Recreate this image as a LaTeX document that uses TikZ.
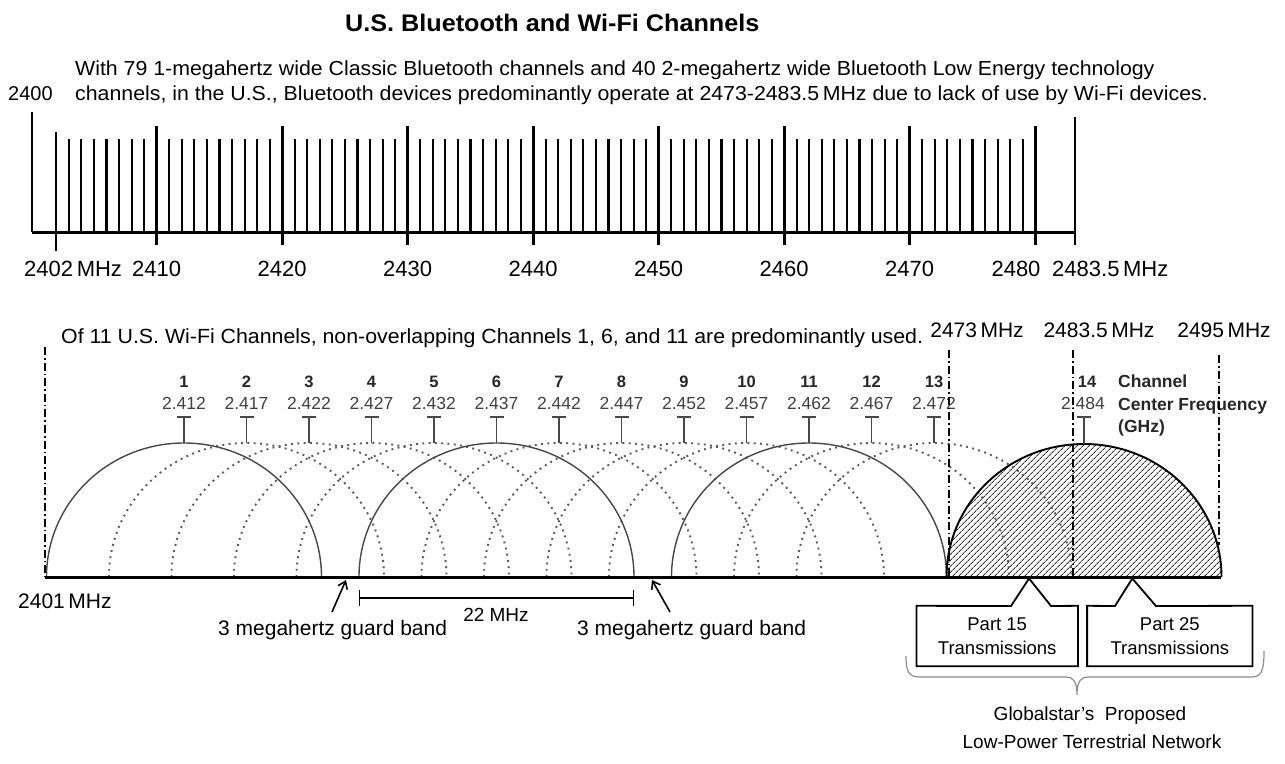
\documentclass[tikz,border=0pt]{standalone}
\usepackage{fontspec}
\usepackage{graphicx}
\setmainfont{Liberation Sans}
\usetikzlibrary{arrows.meta,patterns.meta}
\newcommand{\hstretch}[2]{\scalebox{#1}[1]{#2}}
\begin{document}
\begin{tikzpicture}[x=1pt,y=1pt,
  fs/.style={font=\fontsize{#1}{#1}\selectfont},
  txt/.style={inner sep=0pt, anchor=base},
  txtw/.style={inner sep=0pt, anchor=base west},
  axisline/.style={line width=3pt},
  tentick/.style={line width=2.8pt},
  smalltick/.style={line width=2.1pt},
  wdot/.style={draw=black!65, line width=1.9pt, dash pattern=on 1.9pt off 4.4pt},
  wsolid/.style={draw=black!72, line width=1.4pt},
  dashdot/.style={line width=1.6pt, dash pattern=on 8pt off 3pt on 1.6pt off 3pt},
  tmark/.style={draw=black!72, line width=1.8pt},
  chn/.style={inner sep=0pt, anchor=base, font=\fontsize{16.5}{16.5}\selectfont\bfseries, text=black!85},
  chf/.style={inner sep=0pt, anchor=base, font=\fontsize{17.5}{17.5}\selectfont, text=black!75},
  ccf/.style={inner sep=0pt, anchor=base west, font=\fontsize{17.5}{17.5}\selectfont\bfseries, text=black!85},
  boxline/.style={line width=1.8pt, line join=miter},
  partbox/.style={inner sep=0pt, minimum width=161pt, minimum height=60pt, align=center, font=\fontsize{18.5}{24}\selectfont},
  braceline/.style={draw=black!45, line width=1.2pt},
  guard/.style={-{Straight Barb[length=7pt,width=10pt,line width=1.6pt]}, line width=1.6pt}
]
\useasboundingbox (0,0) rectangle (1285,-763);

% ---------- title and paragraph ----------
\node[txtw, font={\fontsize{24}{24}\selectfont\bfseries}] (title) at (345,-31) {\hstretch{1.05}{U.S. Bluetooth and Wi-Fi Channels}};
\node[txtw, fs=20.3] (para1) at (75,-75) {\hstretch{1.05}{With 79 1-megahertz wide Classic Bluetooth channels and 40 2-megahertz wide Bluetooth Low Energy technology}};
\node[txtw, fs=20.3] (para2) at (75,-100.7) {\hstretch{1.05}{channels, in the U.S., Bluetooth devices predominantly operate at 2473-2483.5\,MHz due to lack of use by Wi-Fi devices.}};
\node[txtw, fs=20] (f2400) at (8,-100.7) {2400};

% ---------- Bluetooth axis ----------
\coordinate (btL) at (32,-232);
\coordinate (btR) at (1075,-232);
\draw[line width=2.4pt] (32,-112) -- (btL);
\draw[line width=2.4pt] (btR) -- (1075,-117) ;
\draw[line width=2.4pt] (1075,-232) -- (1075,-245);
\draw[smalltick] (56.3,-132) -- (56.3,-251);
\foreach \k in {1,...,78}{
  \pgfmathtruncatemacro\ff{mod(2402+\k,10)}
  \pgfmathsetmacro\xx{56.3+\k*12.55}
  \ifnum\ff=0
    \draw[tentick] (\xx,-126) -- (\xx,-245);
  \else
    \draw[smalltick] (\xx,-139) -- (\xx,-232);
  \fi
}
\draw[axisline] (btL) -- (btR);

\node[txtw, fs=22] (l2402) at (24,-276.5) {2402\,MHz};
\foreach \t in {2410,2420,2430,2440,2450,2460,2470}{
  \pgfmathsetmacro\xx{56.3+(\t-2402)*12.55}
  \node[txt, fs=22] (l\t) at (\xx,-276.5) {\t};
}
\node[txt, fs=22] (l2480) at (1016,-276.5) {2480};
\node[txtw, fs=22] (l24835) at (1052,-276.5) {2483.5\,MHz};

% ---------- Wi-Fi ----------
\node[txtw, fs=20.5] (wcap) at (61,-343) {\hstretch{1.04}{Of 11 U.S. Wi-Fi Channels, non-overlapping Channels 1, 6, and 11 are predominantly used.}};
\node[txt, fs=21] (w2473) at (977,-337.3) {2473\,MHz};
\node[txt, fs=21] (w24835) at (1099,-337.3) {2483.5\,MHz};
\node[txt, fs=21] (w2495) at (1224,-337.3) {2495\,MHz};

% hatched channel 14
\fill[pattern={Lines[angle=45,distance=4pt,line width=0.9pt]}, pattern color=black!80]
  (946.5,-577) arc[start angle=180, end angle=0, x radius=137.5pt, y radius=133pt] -- cycle;

% dotted channels
\foreach \i in {2,3,4,5,7,8,9,10,12,13}{
  \pgfmathsetmacro\cx{184+(\i-1)*62.5}
  \draw[wdot] (\cx-137.5,-577) arc[start angle=180, end angle=0, x radius=137.5pt, y radius=134pt];
}
% solid channels
\foreach \i in {1,6,11}{
  \pgfmathsetmacro\cx{184+(\i-1)*62.5}
  \draw[wsolid] (\cx-137.5,-577) arc[start angle=180, end angle=0, x radius=137.5pt, y radius=134pt];
}
\draw[line width=1.9pt] (946.5,-577) arc[start angle=180, end angle=0, x radius=137.5pt, y radius=133pt];

% T markers and labels
\foreach \i/\fq in {1/2.412,2/2.417,3/2.422,4/2.427,5/2.432,6/2.437,7/2.442,8/2.447,9/2.452,10/2.457,11/2.462,12/2.467,13/2.472}{
  \pgfmathsetmacro\cx{184+(\i-1)*62.5}
  \draw[tmark] (\cx-7,-417) -- (\cx+7,-417) (\cx,-417) -- (\cx,-443);
  \node[chn] (cn\i) at (\cx,-387) {\i};
  \node[chf] (cf\i) at (\cx,-409) {\fq};
}
\draw[tmark] (1077,-417) -- (1091,-417) (1084,-417) -- (1084,-444);
\node[chn] (cn14) at (1087,-387) {14};
\node[chf] (cf14) at (1083,-409) {2.484};
\node[ccf] (cc1) at (1118,-387) {Channel};
\node[ccf] (cc2) at (1118,-410) {Center Frequency};
\node[ccf] (cc3) at (1118,-432) {(GHz)};

% dash-dot frequency markers
\draw[dashdot] (45,-347) -- (45,-577);
\draw[dashdot] (949,-350) -- (949,-577);
\draw[dashdot] (1073,-350) -- (1073,-577);
\draw[dashdot] (1219,-355) -- (1219,-545);

% Wi-Fi baseline
\coordinate (wL) at (45,-577);
\coordinate (wR) at (1221,-577);
\draw[axisline] (wL) -- (wR);
\node[txtw, fs=21] (w2401) at (18,-608.3) {2401\,MHz};

% guard bands
\node[txtw, fs=21] (g1) at (218,-635) {3 megahertz guard band};
\node[txtw, fs=21] (g2) at (577,-635) {3 megahertz guard band};
\coordinate (g1tip) at (346,-580);
\coordinate (g1tail) at (332,-612);
\coordinate (g2tip) at (652,-580);
\coordinate (g2tail) at (670,-612);
\draw[guard] (g1tail) -- (g1tip);
\draw[guard] (g2tail) -- (g2tip);

% 22 MHz dimension
\coordinate (d1) at (359.5,-598);
\coordinate (d2) at (633.5,-598);
\draw[line width=1.8pt] (d1) -- (d2);
\draw[line width=1.8pt] (359.5,-590) -- (359.5,-606) (633.5,-590) -- (633.5,-606);
\node[txt, fs=19] (d22) at (496,-621.7) {22 MHz};

% callout boxes
\node[partbox] (p15) at (997.2,-636) {Part 15\\Transmissions};
\node[partbox, minimum width=165pt] (p25) at (1169.8,-636) {Part 25\\Transmissions};
\coordinate (t15) at (1029,-578.5);
\coordinate (t25) at (1132.3,-578.5);
\draw[boxline] (p15.north west) -- (1011,-606) -- (t15) -- (1051,-606) -- (p15.north east) -- (p15.south east) -- (p15.south west) -- cycle;
\draw[boxline] (p25.north west) -- (1115,-606) -- (t25) -- (1156,-606) -- (p25.north east) -- (p25.south east) -- (p25.south west) -- cycle;

% brace
\draw[braceline] (906,-656) .. controls (906,-672) and (909,-677) .. (920,-677) -- (1066,-677)
  .. controls (1073,-677) and (1077,-681) .. (1077,-695)
  .. controls (1077,-681) and (1081,-677) .. (1088,-677) -- (1251,-677)
  .. controls (1261,-677) and (1264,-672) .. (1264,-651);

\node[txt, fs=19] (gs1) at (1090,-720) {Globalstar’s\ \ Proposed};
\node[txt, fs=19] (gs2) at (1092,-748) {Low-Power Terrestrial Network};
\end{tikzpicture}
\end{document}
